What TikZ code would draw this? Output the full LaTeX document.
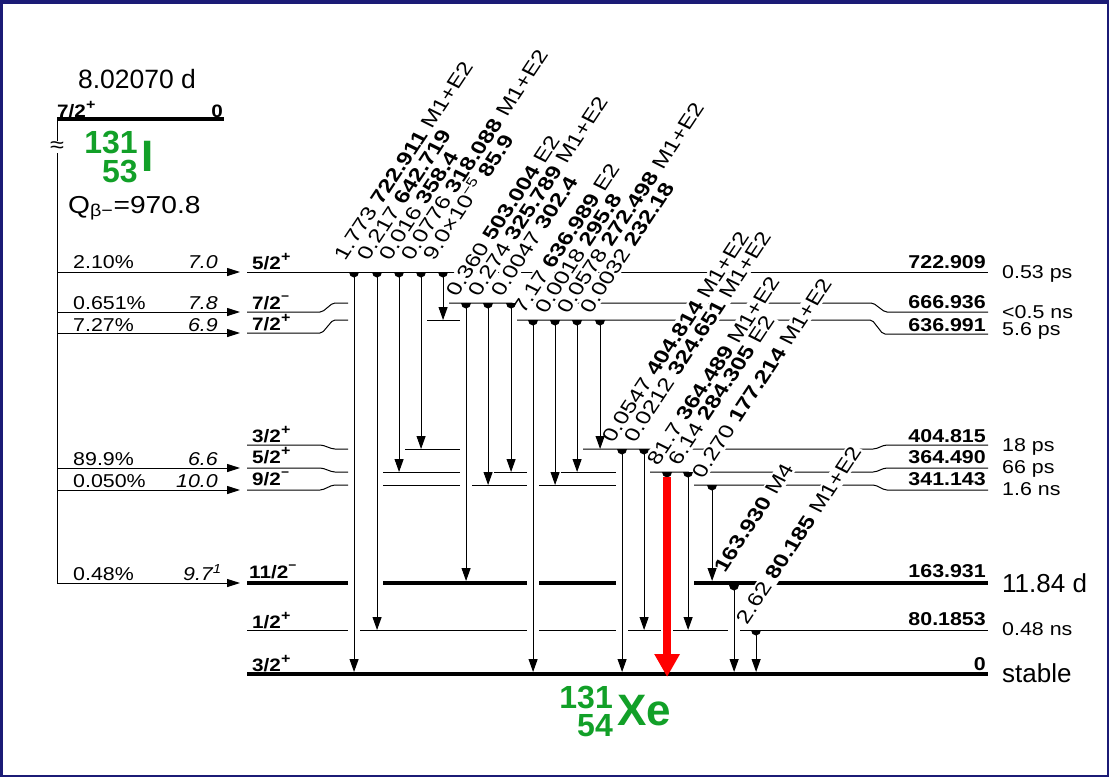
\documentclass[tikz,border=0pt]{standalone}
\usepackage{fontspec}
\setmainfont{Liberation Sans}
\newfontfamily\lblfont{Liberation Sans}[FakeStretch=1.27]
\usetikzlibrary{arrows.meta}
\definecolor{navy}{RGB}{27,27,118}
\definecolor{nucgreen}{RGB}{18,160,40}
\newcommand\fs[1]{\fontsize{#1}{#1}\selectfont}
\newcommand\spp{\raisebox{0.42em}{\fs{14}\bfseries +}}
\newcommand\spm{\raisebox{0.5em}{\fs{12}\bfseries −}}
\newcommand\gltext[3]{\lblfont\fs{18}#1\ifx\relax#1\relax\else\ \fi\textbf{#2}\ #3}
\newcommand\gammalabels{%
\gl{l1}{354}{272}{-11}{1.773}{722.911}{M1+E2}%
\gl{l2}{377}{272}{-11}{0.217}{642.719}{}%
\gl{l3}{399}{272}{-11}{0.016}{358.4}{}%
\gl{l4}{421}{272}{-11}{0.0776}{318.088}{M1+E2}%
\gl{l5}{443}{272}{-11}{9.0×10\textsuperscript{−5}}{85.9}{}%
\gl{l6}{466}{303}{-6}{0.360}{503.004}{E2}%
\gl{l7}{488}{303}{-6}{0.274}{325.789}{M1+E2}%
\gl{l8}{511}{303}{-6}{0.0047}{302.4}{}%
\gl{l9}{533}{320}{-6}{7.17}{636.989}{E2}%
\gl{l10}{555}{320}{-6}{0.0018}{295.8}{}%
\gl{l11}{577}{320}{-6}{0.0578}{272.498}{M1+E2}%
\gl{l12}{600}{320}{-6}{0.0032}{232.18}{}%
\gl{l13}{622}{449}{-6}{0.0547}{404.814}{M1+E2}%
\gl{l14}{644}{449}{-6}{0.0212}{324.651}{M1+E2}%
\gl{l15}{667}{472}{-6}{81.7}{364.489}{M1+E2}%
\gl{l16}{688}{472}{-6}{6.14}{284.305}{E2}%
\gl{l17}{712}{485}{-6}{0.270}{177.214}{M1+E2}%
\gl{l18}{734}{583}{-10}{}{163.930}{M4}%
\gl{l19}{756}{630}{-5}{2.62}{80.185}{M1+E2}%
}
\newcommand\gam[4]{%
 \coordinate (#1t) at (#2,#3); \coordinate (#1b) at (#2,#4);
 \draw[gline] (#1t) -- (#1b);
 \fill (#2-5,#3) arc[start angle=180,end angle=0,x radius=5,y radius=5.5] -- cycle;
}
\tikzset{
 lev/.style={line width=1pt},
 rc/.style={rounded corners=2pt},
 levthick/.style={line width=4pt},
 gline/.style={line width=1pt,-{Triangle[width=9pt,length=13pt]}},
 feed/.style={line width=1pt,-{Triangle[width=8pt,length=13pt]}},
 glbox/.style={rotate=60,anchor=text,inner sep=1.8pt,fill=white},
 gltxt/.style={rotate=60,anchor=text,inner sep=1.8pt},
 nostretch/.style={xscale=0.869565},
 redarr/.style={line width=8pt,red,-{Triangle[width=24pt,length=23pt]}},
 spin/.style={anchor=base west,font={\fs{18}\bfseries}},
 pct/.style={anchor=base west},
 logft/.style={anchor=base east,font={\fs{18.6}\itshape}},
 en/.style={anchor=base east,font={\fs{18.6}\bfseries}},
 half/.style={anchor=base west},
 big/.style={nostretch,anchor=base west,font={\fs{26}}},
 grn/.style={nostretch,text=nucgreen},
}
\begin{document}
\begin{tikzpicture}[x=0.869565pt,y=-1pt,xscale=1.15,
  every node/.style={transform shape,inner sep=0pt,font={\fs{18.6}}}]
\useasboundingbox (0,0) rectangle (1109,777);
\fill[white] (0,0) rectangle (1109,777);
\fill[navy] (0,0) rectangle (1109,4);
\fill[navy] (0,0) rectangle (2.5,777);
\fill[navy] (1106.5,0) rectangle (1109,777);
\fill[navy] (0,774.5) rectangle (1109,777);
% ---- level lines
\draw[lev] (247,272) -- (988,272);
\draw[lev,rc] (247,312) -- (322,312) -- (333,303) -- (348,303);
\draw[lev,rc] (449,303) -- (873,303) -- (885,312) -- (988,312);
\draw[lev,rc] (247,333) -- (322,333) -- (333,320) -- (348,320);
\draw[lev] (427,320) -- (460,320);
\draw[lev,rc] (517,320) -- (872,320) -- (883,334) -- (988,334);
\draw[lev,rc] (247,445) -- (322,445) -- (333,449) -- (348,449);
\draw[lev] (405,449) -- (460,449);
\draw[lev,rc] (583,449) -- (875,449) -- (885,445) -- (988,445);
\draw[lev,rc] (247,468) -- (322,468) -- (333,472) -- (348,472);
\draw[lev] (383,472) -- (460,472);
\draw[lev] (494,472) -- (527,472);
\draw[lev] (561,472) -- (616,472);
\draw[lev,rc] (650,472) -- (875,472) -- (885,468) -- (988,468);
\draw[lev,rc] (247,490) -- (322,490) -- (333,485) -- (348,485);
\draw[lev] (383,485) -- (460,485);
\draw[lev] (472,485) -- (527,485);
\draw[lev] (539,485) -- (616,485);
\draw[lev,rc] (694,485) -- (875,485) -- (885,490) -- (988,490);
\draw[levthick] (247,583) -- (348,583) (383,583) -- (527,583) (539,583) -- (616,583) (694,583) -- (988,583);
\draw[lev] (247,630) -- (348,630) (360,630) -- (527,630) (539,630) -- (616,630) (628,630) -- (661,630) (673,630) -- (728,630) (740,630) -- (988,630);
\draw[levthick] (247,674) -- (988,674);
% ---- parent
\draw[levthick] (57,119) -- (224,119);
\draw[lev] (57,119) -- (57,583);
\node[fill=white,inner sep=0.5pt,font={\fs{22}}] (brk) at (57,147) {≈};
\foreach \n/\y in {f1/272,f2/312,f3/333,f4/468,f5/490,f6/583}{
  \coordinate (\n s) at (57,\y); \coordinate (\n e) at (240,\y);
  \draw[feed] (\n s) -- (\n e);}
% ---- label boxes (cut the level lines)
\def\gl#1#2#3#4#5#6#7{\node[glbox] (b#1) at (#2-9,#3+#4) {\phantom{\gltext{#5}{#6}{#7}}};}
\gammalabels
% ---- transitions
\gam{t1}{354}{272}{672}
\gam{t2}{377}{272}{630}
\gam{t3}{399}{272}{472}
\gam{t4}{421}{272}{449}
\gam{t5}{443}{272}{320}
\gam{t6}{466}{303}{581}
\gam{t7}{488}{303}{485}
\gam{t8}{511}{303}{472}
\gam{t9}{533}{320}{672}
\gam{t10}{555}{320}{485}
\gam{t11}{577}{320}{472}
\gam{t12}{600}{320}{449}
\gam{t13}{622}{449}{672}
\gam{t14}{644}{449}{630}
\coordinate (t15t) at (667,477); \coordinate (t15b) at (667,677);
\fill (667-5,472) arc[start angle=180,end angle=0,x radius=5,y radius=5.5] -- cycle;
\draw[redarr] (t15t) -- (t15b);
\gam{t16}{688}{472}{630}
\gam{t17}{712}{485}{581}
\gam{t18}{734}{585}{672}
\gam{t19}{756}{630}{672}
% ---- label texts
\def\gl#1#2#3#4#5#6#7{\node[gltxt] (#1) at (#2-9,#3+#4) {\gltext{#5}{#6}{#7}};}
\gammalabels
% ---- parent texts
\node[nostretch,anchor=base,font={\fs{26.5}}] (thalf) at (137,88) {8.02070 d};
\node[spin] (pspin) at (57,117) {7/2\spp};
\node[anchor=base east,font={\fs{18}\bfseries}] (pen) at (223,117) {0};
\node[grn,anchor=base east,font={\fs{32}\bfseries}] (ia) at (138,153) {131};
\node[grn,anchor=base east,font={\fs{32}\bfseries}] (iz) at (138,182) {53};
\node[grn,anchor=base west,font={\fs{44}\bfseries}] (isym) at (141,171) {I};
\node[anchor=base west,font={\fs{24.5}}] (q) at (68,213) {Q\textsubscript{β−}=970.8};
% ---- feeding labels
\node[pct] (p1) at (73,268) {2.10\%};   \node[logft] (lf1) at (218,268) {7.0};
\node[pct] (p2) at (73,309) {0.651\%};  \node[logft] (lf2) at (218,309) {7.8};
\node[pct] (p3) at (73,331) {7.27\%};   \node[logft] (lf3) at (218,331) {6.9};
\node[pct] (p4) at (73,465) {89.9\%};   \node[logft] (lf4) at (218,465) {6.6};
\node[pct] (p5) at (73,487) {0.050\%};  \node[logft] (lf5) at (218,487) {10.0};
\node[pct] (p6) at (73,580) {0.48\%};   \node[logft] (lf6) at (222,580) {9.7\textsuperscript{1}};
% ---- spins
\node[spin] (s722) at (252,269) {5/2\spp};
\node[spin] (s667) at (252,309) {7/2\spm};
\node[spin] (s637) at (252,330) {7/2\spp};
\node[spin] (s405) at (252,442) {3/2\spp};
\node[spin] (s364) at (252,463) {5/2\spp};
\node[spin] (s341) at (252,485) {9/2\spm};
\node[spin] (s164) at (249,578) {11/2\spm};
\node[spin] (s80) at (252,628) {1/2\spp};
\node[spin] (s0) at (252,671) {3/2\spp};
% ---- energies
\node[en] (e722) at (986,268) {722.909};
\node[en] (e667) at (986,308) {666.936};
\node[en] (e637) at (986,331) {636.991};
\node[en] (e405) at (986,442) {404.815};
\node[en] (e364) at (986,463) {364.490};
\node[en] (e341) at (986,485) {341.143};
\node[en] (e164) at (986,577) {163.931};
\node[en] (e80) at (986,625) {80.1853};
\node[en] (e0) at (986,670) {0};
% ---- half-lives
\node[half] (h722) at (1002,278) {0.53 ps};
\node[half] (h667) at (1002,318) {<0.5 ns};
\node[half] (h637) at (1002,335) {5.6 ps};
\node[half] (h405) at (1002,451) {18 ps};
\node[half] (h364) at (1002,473) {66 ps};
\node[half] (h341) at (1002,495) {1.6 ns};
\node[big] (h164) at (1002,592) {11.84 d};
\node[half] (h80) at (1002,635) {0.48 ns};
\node[big] (h0) at (1002,682) {stable};
% ---- daughter
\node[grn,anchor=base east,font={\fs{32}\bfseries}] (xa) at (613,708) {131};
\node[grn,anchor=base east,font={\fs{32}\bfseries}] (xz) at (613,736) {54};
\node[grn,anchor=base west,font={\fs{44}\bfseries}] (xsym) at (617,725) {Xe};
\end{tikzpicture}
\end{document}
